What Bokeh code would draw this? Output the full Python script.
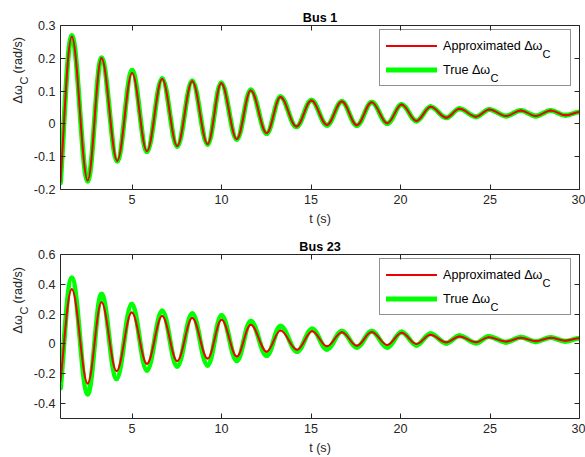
import math
import numpy as np
from bokeh.plotting import figure
from bokeh.models import FixedTicker, LinearAxis, Label, Legend, LegendItem, Range1d
from bokeh.layouts import column, row
from bokeh.embed import file_html
from bokeh.resources import INLINE

# Turning points of the rotor-speed deviation (time in s, value in rad/s);
# first and last entries are the ends of the simulated window.
bus1_t = [1.0, 1.63, 2.52, 3.29, 4.17, 5.0, 5.83, 6.68, 7.52, 8.36, 9.22, 9.98,
          10.85, 11.63, 12.52, 13.29, 14.18, 15.02, 15.89, 16.72, 17.56, 18.39,
          19.26, 20.06, 20.89, 21.68, 22.56, 23.29, 24.22, 24.96, 25.89, 26.72,
          27.56, 28.39, 29.22, 30.0]
bus1_approx = [-0.177, 0.266, -0.172, 0.200, -0.112, 0.155, -0.083, 0.137, -0.067,
               0.130, -0.061, 0.124, -0.046, 0.102, -0.028, 0.082, -0.008, 0.071,
               -0.003, 0.068, -0.004, 0.066, 0.002, 0.059, 0.009, 0.052, 0.019,
               0.046, 0.022, 0.044, 0.024, 0.041, 0.024, 0.041, 0.026, 0.036]
bus1_true = [-0.180, 0.269, -0.174, 0.201, -0.113, 0.163, -0.084, 0.138, -0.068,
             0.131, -0.062, 0.125, -0.047, 0.103, -0.029, 0.083, -0.009, 0.072,
             -0.004, 0.068, -0.005, 0.066, 0.001, 0.059, 0.009, 0.052, 0.019,
             0.046, 0.022, 0.044, 0.024, 0.041, 0.024, 0.041, 0.026, 0.036]

bus23_t = [1.0, 1.63, 2.52, 3.29, 4.13, 4.98, 5.83, 6.68, 7.52, 8.36, 9.22, 10.0,
           10.85, 11.63, 12.52, 13.29, 14.22, 15.06, 15.89, 16.72, 17.56, 18.39,
           19.26, 20.06, 20.89, 21.67, 22.56, 23.29, 24.22, 24.92, 25.89, 26.72,
           27.56, 28.39, 29.19, 30.0]
bus23_approx = [-0.250, 0.367, -0.265, 0.279, -0.182, 0.211, -0.132, 0.188, -0.114,
                0.174, -0.098, 0.163, -0.084, 0.129, -0.052, 0.090, -0.039, 0.086,
                -0.016, 0.079, -0.012, 0.080, -0.007, 0.075, 0.000, 0.061, 0.011,
                0.050, 0.011, 0.045, 0.016, 0.041, 0.018, 0.041, 0.022, 0.038]
bus23_true = [-0.295, 0.443, -0.335, 0.334, -0.233, 0.266, -0.176, 0.221, -0.149,
              0.203, -0.142, 0.191, -0.112, 0.153, -0.078, 0.119, -0.051, 0.100,
              -0.035, 0.085, -0.022, 0.085, -0.022, 0.080, -0.008, 0.068, 0.005,
              0.055, 0.006, 0.050, 0.012, 0.045, 0.015, 0.044, 0.018, 0.038]

x_ticks = [5, 10, 15, 20, 25, 30]
bus1_y_ticks = [-0.2, -0.1, 0, 0.1, 0.2, 0.3]
bus1_y_labels = ["-0.2", "-0.1", "0", "0.1", "0.2", "0.3"]
bus23_y_ticks = [-0.4, -0.2, 0, 0.2, 0.4, 0.6]
bus23_y_labels = ["-0.4", "-0.2", "0", "0.2", "0.4", "0.6"]

FONT = "Liberation Sans"
AX = "#262626"
FS = "12.6px"
SUB = "11px"
LABEL_W = 30          # strip holding the rotated y-axis title


def smooth_segments(t, y):
    """Cubic Bezier pieces between successive turning points (flat tangents
    at the extrema, so each piece reads as half an oscillation)."""
    t = np.asarray(t, float)
    y = np.asarray(y, float)
    slope = np.zeros(len(t))
    slope[0] = 1.2 * (y[1] - y[0]) / (t[1] - t[0])
    h = 0.3634 * np.diff(t)
    return dict(
        x0=t[:-1], y0=y[:-1], x1=t[1:], y1=y[1:],
        cx0=t[:-1] + h, cy0=y[:-1] + slope[:-1] * h,
        cx1=t[1:] - h, cy1=y[1:] - slope[1:] * h,
    )


def style_axis(ax, ticks, labels=None, show=True):
    ax.ticker = FixedTicker(ticks=ticks)
    ax.axis_line_color = AX
    ax.axis_line_width = 1
    ax.major_tick_line_color = AX
    ax.major_tick_in = 5
    ax.major_tick_out = 0
    ax.minor_tick_in = 0
    ax.minor_tick_out = 0
    ax.major_label_text_font = FONT
    ax.major_label_text_color = AX
    if show:
        ax.major_label_text_font_size = FS
        ax.major_label_standoff = 5
        if labels is not None:
            ax.major_label_overrides = dict(zip(ticks, labels))
    else:
        ax.major_label_standoff = 0
        ax.major_label_overrides = {v: "" for v in ticks}


def make_panel(title, t, approx, true, yr, yticks, ylabels, height, top, bottom, sub_y):
    p = figure(width=585 - LABEL_W, height=height, x_range=Range1d(1, 30),
               y_range=Range1d(*yr), output_backend="svg", toolbar_location=None,
               title=title, min_border_left=59 - LABEL_W, min_border_right=6,
               min_border_top=top, min_border_bottom=bottom)
    p.outline_line_color = None
    p.grid.visible = False
    p.background_fill_color = "white"
    p.border_fill_color = "white"

    p.title.text_font = FONT
    p.title.text_font_size = FS
    p.title.text_font_style = "bold"
    p.title.text_color = "black"
    p.title.align = "center"
    p.title.standoff = 2

    style_axis(p.xaxis[0], x_ticks)
    style_axis(p.yaxis[0], yticks, ylabels)
    p.xaxis.axis_label = "t (s)"
    p.xaxis.axis_label_text_font = FONT
    p.xaxis.axis_label_text_font_size = FS
    p.xaxis.axis_label_text_font_style = "normal"
    p.xaxis.axis_label_text_color = AX
    p.xaxis.axis_label_standoff = 5

    top_ax = LinearAxis()
    style_axis(top_ax, x_ticks, show=False)
    p.add_layout(top_ax, "above")
    right_ax = LinearAxis()
    style_axis(right_ax, yticks, show=False)
    p.add_layout(right_ax, "right")

    g = smooth_segments(t, true)
    r_true = p.bezier(source=g, x0="x0", y0="y0", x1="x1", y1="y1",
                      cx0="cx0", cy0="cy0", cx1="cx1", cy1="cy1",
                      line_color="#00ff00", line_width=5, line_cap="round")
    a = smooth_segments(t, approx)
    r_approx = p.bezier(source=a, x0="x0", y0="y0", x1="x1", y1="y1",
                        cx0="cx0", cy0="cy0", cx1="cx1", cy1="cy1",
                        line_color="#ee0000", line_width=2, line_cap="round")

    # the legend sits on the empty white frame above the decayed oscillation,
    # so its box is left unfilled and the subscripts below stay visible
    legend = Legend(
        items=[LegendItem(label="Approximated \u0394\u03c9", renderers=[r_approx]),
               LegendItem(label="True \u0394\u03c9", renderers=[r_true])],
        location=(319, 103), orientation="vertical",
        padding=6, margin=0, spacing=5,
        glyph_width=51, glyph_height=19, label_height=19, label_width=121,
        label_standoff=6,
        label_text_font=FONT, label_text_font_size=FS, label_text_color="black",
        border_line_color=AX, border_line_width=1,
        background_fill_alpha=0,
    )
    p.add_layout(legend)

    # subscripts of the two legend entries
    for sx, sy in ((482, sub_y), (430, sub_y - 24)):
        p.add_layout(Label(x=sx, y=sy, x_units="screen", y_units="screen", text="C",
                           text_font=FONT, text_font_size=SUB, text_color="black",
                           text_align="left", text_baseline="middle"))
    return p


def ylabel_strip(height, start):
    """Narrow strip carrying the rotated y title: "Δω", subscript "C", unit."""
    s = figure(width=LABEL_W, height=height, x_range=Range1d(0, 1), y_range=Range1d(0, 1),
               output_backend="svg", toolbar_location=None,
               x_axis_location=None, y_axis_location=None, min_border=0)
    s.outline_line_color = None
    s.grid.visible = False
    s.background_fill_color = "white"
    s.border_fill_color = "white"
    pieces = [("\u0394\u03c9", 17, start, FS),
              ("C", 23.5, start + 19, SUB),
              ("(rad/s)", 17, start + 30, FS)]
    for txt, x, y, size in pieces:
        s.add_layout(Label(x=x, y=y, x_units="screen", y_units="screen", text=txt,
                           angle=math.pi / 2, text_font=FONT, text_font_size=size,
                           text_color=AX, text_align="left", text_baseline="middle"))
    return s


p1 = make_panel("Bus 1", bus1_t, bus1_approx, bus1_true, (-0.2, 0.3),
                bus1_y_ticks, bus1_y_labels, 228, 25, 37, 136)
p2 = make_panel("Bus 23", bus23_t, bus23_approx, bus23_true, (-0.5, 0.6),
                bus23_y_ticks, bus23_y_labels, 229, 26, 39, 136)

layout = column(row(ylabel_strip(228, 86), p1, spacing=0),
                row(ylabel_strip(229, 85), p2, spacing=0), spacing=0)
open("out.html", "w").write(file_html(layout, INLINE))
